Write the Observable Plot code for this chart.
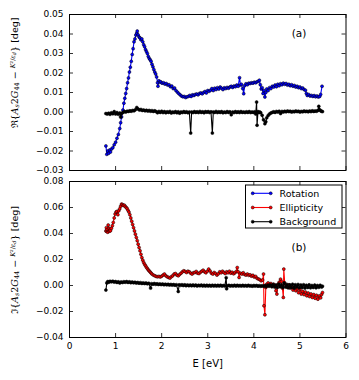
<!DOCTYPE html>
<html>
<head>
<meta charset="utf-8">
<script src="https://cdn.jsdelivr.net/npm/d3@7"></script>
<script src="https://cdn.jsdelivr.net/npm/@observablehq/plot@0.6"></script>
<style>
  html, body { margin: 0; padding: 0; background: white; }
  #fig { position: relative; width: 359px; height: 380px; background: white; overflow: hidden; }
  #fig svg { position: absolute; left: 0; }
</style>
</head>
<body>
<div id="fig"></div>
<script>
// ---------- data (E [eV], value [deg]) ----------
const xTicks = [0, 1, 2, 3, 4, 5, 6];
const yTicksA = [-0.03, -0.02, -0.01, 0.00, 0.01, 0.02, 0.03, 0.04, 0.05];
const yTicksB = [-0.04, -0.02, 0.00, 0.02, 0.04, 0.06, 0.08];
const seriesNames = ["Rotation", "Ellipticity", "Background"];
const seriesColors = ["#0000ff", "#ff0000", "#000000"];

const rotation = [[0.79,-0.0174],[0.81,-0.0217],[0.83,-0.0200],[0.85,-0.0212],[0.87,-0.0195],[0.89,-0.0205],[0.91,-0.0190],[0.94,-0.0183],[0.97,-0.0168],[1.00,-0.0155],[1.03,-0.0135],[1.06,-0.0115],[1.09,-0.0085],[1.11,-0.0055],[1.13,-0.0025],[1.16,0.0010],[1.18,0.0045],[1.20,0.0070],[1.22,0.0095],[1.24,0.0120],[1.26,0.0150],[1.28,0.0175],[1.30,0.0205],[1.32,0.0230],[1.34,0.0260],[1.36,0.0295],[1.38,0.0325],[1.40,0.0360],[1.42,0.0375],[1.44,0.0395],[1.46,0.0405],[1.47,0.0415],[1.49,0.0395],[1.51,0.0385],[1.53,0.0380],[1.55,0.0370],[1.57,0.0375],[1.59,0.0360],[1.61,0.0345],[1.63,0.0335],[1.65,0.0320],[1.67,0.0310],[1.69,0.0300],[1.71,0.0285],[1.73,0.0275],[1.75,0.0268],[1.77,0.0260],[1.79,0.0245],[1.81,0.0232],[1.83,0.0218],[1.85,0.0205],[1.87,0.0195],[1.89,0.0180],[1.91,0.0150],[1.92,0.0132],[1.94,0.0160],[1.96,0.0152],[1.98,0.0155],[2.01,0.0148],[2.04,0.0150],[2.07,0.0143],[2.10,0.0146],[2.13,0.0138],[2.16,0.0140],[2.19,0.0130],[2.22,0.0133],[2.25,0.0120],[2.28,0.0123],[2.31,0.0110],[2.34,0.0102],[2.37,0.0095],[2.40,0.0088],[2.43,0.0082],[2.46,0.0078],[2.49,0.0080],[2.52,0.0074],[2.55,0.0078],[2.58,0.0080],[2.61,0.0085],[2.64,0.0080],[2.67,0.0088],[2.70,0.0085],[2.73,0.0090],[2.76,0.0092],[2.79,0.0088],[2.82,0.0095],[2.85,0.0098],[2.88,0.0093],[2.91,0.0100],[2.94,0.0105],[2.97,0.0098],[3.00,0.0110],[3.03,0.0106],[3.06,0.0112],[3.09,0.0120],[3.12,0.0110],[3.15,0.0122],[3.18,0.0115],[3.21,0.0125],[3.24,0.0118],[3.27,0.0128],[3.30,0.0122],[3.33,0.0115],[3.36,0.0124],[3.39,0.0120],[3.42,0.0126],[3.45,0.0122],[3.48,0.0128],[3.51,0.0132],[3.54,0.0126],[3.57,0.0133],[3.60,0.0130],[3.63,0.0138],[3.66,0.0132],[3.69,0.0176],[3.71,0.0138],[3.73,0.0142],[3.76,0.0120],[3.78,0.0094],[3.80,0.0135],[3.83,0.0145],[3.86,0.0140],[3.89,0.0148],[3.92,0.0146],[3.95,0.0150],[3.98,0.0148],[4.01,0.0153],[4.04,0.0150],[4.07,0.0155],[4.10,0.0158],[4.12,0.0163],[4.14,0.0140],[4.16,0.0118],[4.18,0.0125],[4.20,0.0095],[4.22,0.0110],[4.24,0.0077],[4.26,0.0100],[4.28,0.0118],[4.31,0.0110],[4.34,0.0125],[4.37,0.0120],[4.40,0.0132],[4.43,0.0128],[4.46,0.0138],[4.49,0.0130],[4.52,0.0142],[4.55,0.0135],[4.58,0.0145],[4.61,0.0140],[4.64,0.0148],[4.67,0.0142],[4.70,0.0146],[4.73,0.0138],[4.76,0.0142],[4.79,0.0135],[4.82,0.0140],[4.85,0.0132],[4.88,0.0136],[4.91,0.0128],[4.94,0.0132],[4.97,0.0125],[5.00,0.0128],[5.03,0.0120],[5.06,0.0123],[5.09,0.0115],[5.12,0.0112],[5.14,0.0095],[5.16,0.0085],[5.19,0.0090],[5.22,0.0082],[5.25,0.0085],[5.28,0.0080],[5.31,0.0084],[5.34,0.0078],[5.37,0.0082],[5.40,0.0077],[5.43,0.0080],[5.45,0.0090],[5.48,0.0132]];

const backgroundA = [[0.79,-0.0008],[0.82,-0.0010],[0.85,-0.0006],[0.88,-0.0012],[0.91,-0.0004],[0.94,-0.0009],[0.97,0.0002],[1.00,-0.0010],[1.03,-0.0003],[1.06,-0.0012],[1.09,-0.0005],[1.11,-0.0026],[1.13,-0.0008],[1.16,-0.0002],[1.19,0.0002],[1.22,0.0000],[1.25,0.0004],[1.28,0.0003],[1.31,0.0006],[1.34,0.0004],[1.37,0.0008],[1.40,0.0006],[1.43,0.0012],[1.46,0.0023],[1.49,0.0015],[1.52,0.0010],[1.55,0.0013],[1.58,0.0008],[1.61,0.0010],[1.64,0.0006],[1.67,0.0009],[1.70,0.0005],[1.73,0.0008],[1.76,0.0004],[1.79,0.0007],[1.82,0.0003],[1.85,0.0006],[1.88,0.0002],[1.91,-0.0004],[1.94,0.0003],[1.97,-0.0002],[2.00,0.0004],[2.03,-0.0003],[2.06,0.0002],[2.09,-0.0004],[2.12,0.0001],[2.15,-0.0002],[2.18,0.0003],[2.21,-0.0005],[2.24,0.0000],[2.27,-0.0003],[2.30,0.0002],[2.33,-0.0004],[2.36,0.0001],[2.39,-0.0006],[2.42,0.0000],[2.45,-0.0003],[2.48,0.0002],[2.51,-0.0002],[2.54,0.0001],[2.57,-0.0004],[2.60,0.0000],[2.63,-0.0108],[2.65,0.0000],[2.68,-0.0003],[2.71,0.0002],[2.74,-0.0002],[2.77,0.0001],[2.80,-0.0003],[2.83,0.0003],[2.86,-0.0002],[2.89,0.0001],[2.92,-0.0004],[2.95,0.0002],[2.98,-0.0001],[3.01,0.0002],[3.04,-0.0003],[3.07,0.0001],[3.10,-0.0108],[3.12,0.0000],[3.15,-0.0002],[3.18,0.0003],[3.21,-0.0003],[3.24,0.0001],[3.27,-0.0002],[3.30,0.0002],[3.33,-0.0004],[3.36,0.0000],[3.39,-0.0003],[3.42,0.0002],[3.45,-0.0002],[3.48,0.0001],[3.51,-0.0014],[3.54,0.0000],[3.57,-0.0003],[3.60,0.0002],[3.63,-0.0002],[3.66,0.0001],[3.69,-0.0003],[3.72,0.0002],[3.75,-0.0002],[3.78,0.0000],[3.81,-0.0003],[3.84,0.0001],[3.87,-0.0002],[3.90,0.0002],[3.93,-0.0003],[3.96,0.0000],[3.99,-0.0002],[4.02,0.0001],[4.04,-0.0010],[4.06,0.0051],[4.07,-0.0068],[4.09,0.0002],[4.11,-0.0003],[4.13,0.0000],[4.15,-0.0004],[4.18,-0.0017],[4.21,-0.0040],[4.24,-0.0060],[4.26,-0.0050],[4.28,-0.0030],[4.31,-0.0018],[4.34,-0.0010],[4.37,-0.0005],[4.40,-0.0002],[4.43,0.0001],[4.46,-0.0002],[4.49,0.0003],[4.52,0.0000],[4.55,0.0004],[4.58,-0.0008],[4.61,0.0003],[4.64,0.0000],[4.67,0.0004],[4.70,0.0001],[4.73,0.0005],[4.76,0.0002],[4.79,0.0004],[4.82,0.0000],[4.85,0.0003],[4.88,0.0001],[4.91,0.0005],[4.94,0.0002],[4.97,0.0004],[5.00,0.0000],[5.03,0.0003],[5.06,0.0001],[5.09,0.0005],[5.12,0.0002],[5.15,0.0004],[5.18,0.0001],[5.21,0.0005],[5.24,0.0002],[5.27,0.0006],[5.30,0.0003],[5.33,0.0005],[5.36,0.0004],[5.39,0.0008],[5.41,0.0029],[5.43,0.0012],[5.45,0.0006],[5.47,0.0004],[5.49,0.0002]];

const ellipticity = [[0.79,0.0420],[0.80,0.0445],[0.81,0.0415],[0.82,0.0430],[0.83,0.0410],[0.84,0.0465],[0.85,0.0420],[0.86,0.0440],[0.87,0.0418],[0.88,0.0430],[0.89,0.0422],[0.91,0.0440],[0.93,0.0460],[0.95,0.0485],[0.97,0.0520],[0.99,0.0550],[1.01,0.0565],[1.03,0.0570],[1.05,0.0545],[1.07,0.0575],[1.09,0.0590],[1.11,0.0610],[1.13,0.0626],[1.15,0.0622],[1.17,0.0615],[1.19,0.0618],[1.21,0.0608],[1.23,0.0600],[1.25,0.0592],[1.27,0.0578],[1.29,0.0565],[1.31,0.0545],[1.33,0.0520],[1.35,0.0495],[1.37,0.0470],[1.39,0.0445],[1.41,0.0420],[1.43,0.0395],[1.45,0.0370],[1.47,0.0345],[1.49,0.0318],[1.51,0.0292],[1.53,0.0267],[1.55,0.0240],[1.57,0.0215],[1.59,0.0195],[1.61,0.0177],[1.63,0.0163],[1.65,0.0152],[1.67,0.0140],[1.69,0.0130],[1.71,0.0120],[1.73,0.0112],[1.75,0.0104],[1.77,0.0096],[1.79,0.0088],[1.82,0.0080],[1.85,0.0075],[1.88,0.0070],[1.91,0.0067],[1.94,0.0070],[1.97,0.0066],[2.00,0.0072],[2.03,0.0080],[2.06,0.0088],[2.09,0.0075],[2.12,0.0067],[2.15,0.0062],[2.18,0.0057],[2.21,0.0068],[2.24,0.0075],[2.27,0.0088],[2.30,0.0092],[2.33,0.0080],[2.36,0.0075],[2.39,0.0085],[2.42,0.0095],[2.45,0.0105],[2.48,0.0113],[2.51,0.0108],[2.54,0.0100],[2.57,0.0110],[2.60,0.0105],[2.63,0.0095],[2.66,0.0088],[2.69,0.0098],[2.72,0.0100],[2.75,0.0108],[2.78,0.0095],[2.81,0.0092],[2.84,0.0102],[2.87,0.0110],[2.90,0.0118],[2.93,0.0105],[2.96,0.0098],[2.99,0.0110],[3.02,0.0126],[3.05,0.0112],[3.08,0.0095],[3.11,0.0088],[3.14,0.0100],[3.17,0.0092],[3.20,0.0080],[3.23,0.0090],[3.26,0.0105],[3.29,0.0098],[3.32,0.0110],[3.35,0.0100],[3.38,0.0092],[3.41,0.0105],[3.44,0.0098],[3.47,0.0110],[3.50,0.0095],[3.53,0.0102],[3.56,0.0090],[3.59,0.0098],[3.62,0.0108],[3.64,0.0138],[3.66,0.0105],[3.68,0.0062],[3.71,0.0095],[3.74,0.0088],[3.77,0.0098],[3.80,0.0085],[3.83,0.0080],[3.86,0.0088],[3.89,0.0078],[3.92,0.0082],[3.95,0.0072],[3.98,0.0078],[4.01,0.0065],[4.04,0.0070],[4.07,0.0055],[4.10,0.0050],[4.13,0.0045],[4.16,0.0036],[4.19,0.0042],[4.21,0.0088],[4.22,-0.0156],[4.24,-0.0225],[4.26,-0.0015],[4.28,0.0010],[4.31,0.0020],[4.34,0.0008],[4.37,0.0015],[4.40,0.0000],[4.43,0.0010],[4.46,-0.0005],[4.48,-0.0040],[4.50,-0.0066],[4.52,0.0005],[4.55,0.0025],[4.58,0.0049],[4.60,0.0030],[4.62,-0.0020],[4.64,-0.0092],[4.65,0.0126],[4.67,0.0020],[4.70,0.0000],[4.73,-0.0015],[4.76,0.0005],[4.79,-0.0020],[4.82,-0.0010],[4.85,-0.0035],[4.88,-0.0015],[4.91,-0.0040],[4.94,-0.0025],[4.97,-0.0055],[5.00,-0.0030],[5.03,-0.0066],[5.06,-0.0045],[5.09,-0.0070],[5.12,-0.0050],[5.15,-0.0079],[5.18,-0.0058],[5.21,-0.0085],[5.24,-0.0065],[5.27,-0.0092],[5.30,-0.0070],[5.33,-0.0098],[5.36,-0.0075],[5.39,-0.0105],[5.42,-0.0080],[5.45,-0.0095],[5.47,-0.0070],[5.49,-0.0054]];

const backgroundB = [[0.79,-0.0035],[0.81,0.0020],[0.83,0.0030],[0.85,0.0025],[0.88,0.0032],[0.91,0.0028],[0.94,0.0033],[0.97,0.0026],[1.00,0.0030],[1.03,0.0024],[1.06,0.0028],[1.09,0.0020],[1.12,0.0027],[1.15,0.0023],[1.18,0.0029],[1.21,0.0025],[1.24,0.0030],[1.27,0.0024],[1.30,0.0028],[1.33,0.0022],[1.36,0.0026],[1.39,0.0021],[1.42,0.0025],[1.45,0.0019],[1.48,0.0023],[1.51,0.0018],[1.54,0.0022],[1.57,0.0016],[1.60,0.0020],[1.63,0.0015],[1.66,0.0019],[1.69,0.0013],[1.72,0.0017],[1.76,-0.0020],[1.78,0.0014],[1.81,0.0010],[1.84,0.0015],[1.87,0.0009],[1.90,0.0013],[1.93,0.0008],[1.96,0.0012],[1.99,0.0007],[2.02,0.0011],[2.05,0.0006],[2.08,0.0010],[2.11,0.0005],[2.14,0.0009],[2.17,0.0004],[2.20,0.0008],[2.23,0.0003],[2.26,0.0007],[2.29,0.0002],[2.32,0.0006],[2.36,-0.0046],[2.38,0.0005],[2.41,0.0001],[2.44,0.0006],[2.47,0.0000],[2.50,0.0005],[2.53,-0.0001],[2.56,0.0004],[2.59,-0.0001],[2.62,0.0003],[2.65,-0.0002],[2.68,0.0004],[2.71,-0.0002],[2.74,0.0003],[2.77,-0.0003],[2.80,0.0002],[2.83,-0.0002],[2.86,0.0003],[2.89,-0.0003],[2.92,0.0002],[2.95,-0.0004],[2.98,0.0002],[3.01,-0.0003],[3.04,0.0001],[3.07,-0.0004],[3.10,0.0002],[3.13,-0.0003],[3.16,0.0001],[3.19,-0.0004],[3.22,0.0001],[3.25,-0.0003],[3.28,0.0002],[3.31,-0.0004],[3.34,0.0000],[3.37,-0.0003],[3.40,0.0060],[3.41,-0.0025],[3.43,-0.0002],[3.46,0.0001],[3.49,-0.0004],[3.52,0.0000],[3.55,-0.0003],[3.58,0.0002],[3.61,-0.0004],[3.64,0.0001],[3.67,-0.0003],[3.70,0.0000],[3.73,-0.0004],[3.76,0.0001],[3.79,-0.0003],[3.82,0.0000],[3.85,-0.0004],[3.88,0.0001],[3.91,-0.0003],[3.94,-0.0001],[3.97,-0.0005],[4.00,0.0000],[4.03,-0.0004],[4.06,0.0000],[4.09,-0.0005],[4.12,-0.0001],[4.15,-0.0006],[4.18,-0.0002],[4.21,-0.0005],[4.24,0.0000],[4.27,-0.0008],[4.30,0.0002],[4.33,-0.0006],[4.36,0.0005],[4.39,-0.0010],[4.42,0.0008],[4.45,-0.0012],[4.48,0.0004],[4.51,-0.0015],[4.54,0.0012],[4.57,-0.0010],[4.60,0.0005],[4.63,-0.0015],[4.66,0.0020],[4.69,-0.0012],[4.72,0.0008],[4.75,-0.0018],[4.78,0.0005],[4.81,-0.0015],[4.84,0.0010],[4.87,-0.0020],[4.90,0.0006],[4.93,-0.0012],[4.96,0.0008],[4.99,-0.0018],[5.02,0.0004],[5.05,-0.0015],[5.08,0.0006],[5.11,-0.0020],[5.14,0.0002],[5.17,-0.0015],[5.20,0.0005],[5.23,-0.0018],[5.26,0.0000],[5.29,-0.0015],[5.32,0.0003],[5.35,-0.0018],[5.38,0.0000],[5.41,-0.0014],[5.44,0.0002],[5.47,-0.0012],[5.49,-0.0005]];

// ---------- layout ----------
const W = 359;
const mL = 69, mR = 13.5;
const frameW = W - mL - mR;
const FONT = "DejaVu Sans, Liberation Sans, sans-serif";
const fmt = d3.format(".2f");

function tickMarks(yTicks, frameH) {
  const L = 4;
  return [
    Plot.ruleX(xTicks, {x: d => d, insetBottom: frameH - L, stroke: "black", strokeWidth: 0.8}),
    Plot.ruleX(xTicks, {x: d => d, insetTop: frameH - L, stroke: "black", strokeWidth: 0.8}),
    Plot.ruleY(yTicks, {y: d => d, insetRight: frameW - L, stroke: "black", strokeWidth: 0.8}),
    Plot.ruleY(yTicks, {y: d => d, insetLeft: frameW - L, stroke: "black", strokeWidth: 0.8})
  ];
}

function seriesMarks(data, color) {
  return [
    Plot.line(data, {x: d => d[0], y: d => d[1], stroke: color, strokeWidth: 1.1}),
    Plot.dot(data, {x: d => d[0], y: d => d[1], r: 1.5, fill: color, stroke: "black", strokeWidth: 0.5})
  ];
}

// top panel (a)
const hA = 176, mTA = 14, mBA = 6;
const frameHA = hA - mTA - mBA;
const chartA = Plot.plot({
  width: W, height: hA,
  marginLeft: mL, marginRight: mR, marginTop: mTA, marginBottom: mBA,
  style: {fontFamily: FONT, fontSize: "9px", background: "transparent", color: "black"},
  x: {domain: [0, 6], axis: null},
  y: {domain: [-0.03, 0.05], axis: null},
  marks: [
    ...seriesMarks(rotation, seriesColors[0]),
    ...seriesMarks(backgroundA, seriesColors[2]),
    ...tickMarks(yTicksA, frameHA),
    Plot.axisY(yTicksA, {tickSize: 0, tickPadding: 6, tickFormat: fmt, fontSize: 9, label: null}),
    Plot.frame({stroke: "black", strokeWidth: 1}),
    Plot.text(["(a)"], {frameAnchor: "top-right", dx: -47, dy: 19, fontSize: 10.5, textAnchor: "middle", lineAnchor: "middle"})
  ]
});

// bottom panel (b)
const topB = 176;
const hB = 204, mTB = 5, mBB = 43;
const frameHB = hB - mTB - mBB;
const chartB = Plot.plot({
  width: W, height: hB,
  marginLeft: mL, marginRight: mR, marginTop: mTB, marginBottom: mBB,
  style: {fontFamily: FONT, fontSize: "9px", background: "transparent", color: "black"},
  x: {domain: [0, 6], axis: null},
  y: {domain: [-0.04, 0.08], axis: null},
  marks: [
    ...seriesMarks(ellipticity, seriesColors[1]),
    ...seriesMarks(backgroundB, seriesColors[2]),
    ...tickMarks(yTicksB, frameHB),
    Plot.axisY(yTicksB, {tickSize: 0, tickPadding: 6, tickFormat: fmt, fontSize: 9, label: null}),
    Plot.axisX(xTicks, {tickSize: 0, tickPadding: 5, tickFormat: d => String(d), fontSize: 9, label: null}),
    Plot.frame({stroke: "black", strokeWidth: 1}),
    Plot.text(["E [eV]"], {frameAnchor: "bottom", dy: 26, fontSize: 10, lineAnchor: "middle"}),
    Plot.text(["(b)"], {frameAnchor: "top-right", dx: -47, dy: 66, fontSize: 10.5, textAnchor: "middle", lineAnchor: "middle"})
  ]
});

const fig = document.getElementById("fig");
chartA.style.top = "0px";
chartB.style.top = topB + "px";
fig.appendChild(chartA);
fig.appendChild(chartB);

// rotated math-like y labels
function yLabel(svg, cy, sym) {
  const t = d3.select(svg).append("text")
    .attr("transform", `translate(15,${cy}) rotate(-90)`)
    .attr("text-anchor", "middle")
    .attr("dominant-baseline", "middle")
    .attr("font-family", "DejaVu Serif, serif")
    .attr("font-size", 9.5)
    .attr("fill", "black");
  t.append("tspan").text(sym + "{");
  t.append("tspan").attr("font-style", "italic").text("A");
  t.append("tspan").attr("font-style", "italic").attr("font-size", 6.5).attr("dy", 2).text("s");
  t.append("tspan").attr("dy", -2).text("2");
  t.append("tspan").attr("font-style", "italic").text("G");
  t.append("tspan").attr("font-size", 6.5).attr("dy", 2).text("44");
  t.append("tspan").attr("dy", -2).text(" − ");
  t.append("tspan").attr("font-style", "italic").attr("font-size", 6.5).attr("dy", -2).text("K²");
  t.append("tspan").attr("font-size", 6.5).text("/");
  t.append("tspan").attr("font-style", "italic").attr("font-size", 6.5).text("ε");
  t.append("tspan").attr("font-style", "italic").attr("font-size", 5).attr("dy", 1.5).text("d");
  t.append("tspan").attr("dy", 0.5).text("}");
  t.append("tspan").attr("font-family", FONT).attr("font-size", 9.5).text(" [deg]");
}
yLabel(chartA, 73, "ℜ");
yLabel(chartB, 260 - topB, "ℑ");

// legend in panel (b)
const lg = d3.select(chartB).append("g").attr("font-family", FONT).attr("font-size", 9.5);
const lx = 245.5, ly = 9, lw = 96.5, lh = 43;
lg.append("rect").attr("x", lx).attr("y", ly).attr("width", lw).attr("height", lh)
  .attr("fill", "white").attr("stroke", "black").attr("stroke-width", 1);
seriesNames.forEach((name, i) => {
  const y = ly + 8.3 + i * 14.2;
  const g = lg.append("g");
  g.append("line").attr("x1", lx + 7.2).attr("x2", lx + 25.2).attr("y1", y).attr("y2", y)
    .attr("stroke", seriesColors[i]).attr("stroke-width", 1.1);
  [lx + 7.2, lx + 25.2].forEach(cx => g.append("circle").attr("cx", cx).attr("cy", y).attr("r", 1.5)
    .attr("fill", seriesColors[i]).attr("stroke", "black").attr("stroke-width", 0.5));
  g.append("text").attr("x", lx + 34).attr("y", y).attr("dy", "0.35em")
    .attr("text-anchor", "start").attr("fill", "black").text(name);
});
</script>
</body>
</html>
